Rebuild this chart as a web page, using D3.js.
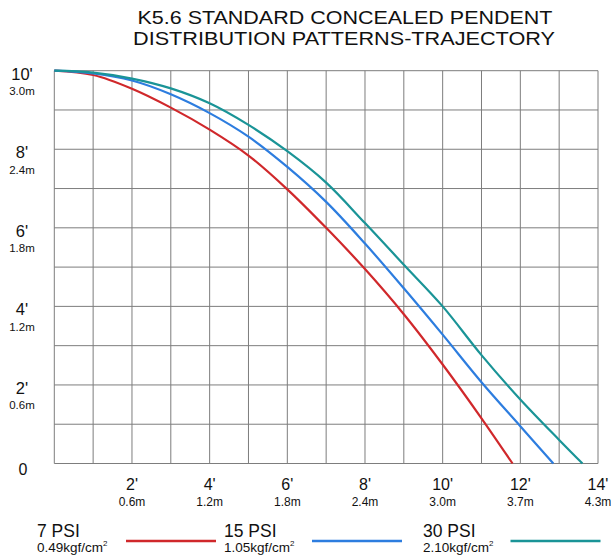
<!DOCTYPE html>
<html>
<head>
<meta charset="utf-8">
<script src="https://cdn.jsdelivr.net/npm/d3@7"></script>
<style>
  body { margin: 0; background: #fff; }
  svg { display: block; font-family: "Liberation Sans", Arial, sans-serif; }
</style>
</head>
<body>
<div id="chart"></div>
<script>
// throw distance (ft) vs height (ft)
const psi7X   = [0, 1, 2, 3, 4, 5, 6, 7, 8, 9, 10, 11, 11.8];
const psi7Y   = [10, 9.89, 9.54, 9.06, 8.5, 7.84, 6.98, 6.0, 4.95, 3.8, 2.52, 1.15, 0];
const psi15X  = [0, 1, 2, 3, 4, 5, 6, 7, 8, 9, 10, 11, 12, 12.85];
const psi15Y  = [10, 9.93, 9.75, 9.4, 8.92, 8.32, 7.55, 6.66, 5.6, 4.46, 3.28, 2.07, 0.95, 0];
const psi30X  = [0, 1, 2, 3, 4, 5, 6, 7, 8, 9, 10, 11, 12, 13, 13.6];
const psi30Y  = [10, 9.95, 9.8, 9.55, 9.17, 8.62, 7.95, 7.15, 6.12, 5.06, 4.0, 2.76, 1.63, 0.6, 0];

const xTicks  = [2, 4, 6, 8, 10, 12, 14];
const xFeet   = ["2'", "4'", "6'", "8'", "10'", "12'", "14'"];
const xMeters = ["0.6m", "1.2m", "1.8m", "2.4m", "3.0m", "3.7m", "4.3m"];
const yTicks  = [10, 8, 6, 4, 2];
const yFeet   = ["10'", "8'", "6'", "4'", "2'"];
const yMeters = ["3.0m", "2.4m", "1.8m", "1.2m", "0.6m"];

const seriesNames = ["7 PSI", "15 PSI", "30 PSI"];
const seriesUnits = ["0.49kgf/cm", "1.05kgf/cm", "2.10kgf/cm"];
const colors = ["#d0282b", "#2d7ddf", "#1a9497"];

const W = 611, H = 555;
const svg = d3.select("#chart").append("svg")
    .attr("width", W).attr("height", H);

const x = d3.scaleLinear().domain([0, 14]).range([54.3, 598]);
const y = d3.scaleLinear().domain([0, 10]).range([463.5, 70.7]);

// title
svg.append("text").attr("x", 345).attr("y", 24)
    .attr("text-anchor", "middle").attr("font-size", 18.5)
    .attr("textLength", 415).attr("lengthAdjust", "spacingAndGlyphs")
    .attr("fill", "#111").text("K5.6 STANDARD CONCEALED PENDENT");
svg.append("text").attr("x", 344).attr("y", 44.5)
    .attr("text-anchor", "middle").attr("font-size", 18.5)
    .attr("textLength", 422).attr("lengthAdjust", "spacingAndGlyphs")
    .attr("fill", "#111").text("DISTRIBUTION PATTERNS-TRAJECTORY");

// grid
const grid = svg.append("g").attr("stroke", "#7d7d7d").attr("stroke-width", 1);
grid.selectAll("line.v").data(d3.range(0, 15)).join("line")
    .attr("class", "v")
    .attr("x1", d => x(d)).attr("x2", d => x(d))
    .attr("y1", y(10)).attr("y2", y(0));
grid.selectAll("line.h").data(d3.range(0, 11)).join("line")
    .attr("class", "h")
    .attr("x1", x(0)).attr("x2", x(14))
    .attr("y1", d => y(d)).attr("y2", d => y(d));

// y labels
const yl = svg.append("g").attr("text-anchor", "middle").attr("fill", "#111");
yl.selectAll("text.f").data(yTicks).join("text")
    .attr("class", "f")
    .attr("x", 22).attr("y", d => y(d) + 9)
    .attr("font-size", 16.5).text((d, i) => yFeet[i]);
yl.selectAll("text.m").data(yTicks).join("text")
    .attr("class", "m")
    .attr("x", 22).attr("y", d => y(d) + 24.5)
    .attr("font-size", 11.5).text((d, i) => yMeters[i]);
yl.append("text").attr("x", 23).attr("y", y(0) + 11)
    .attr("font-size", 16).text("0");

// x labels
const xl = svg.append("g").attr("text-anchor", "middle").attr("fill", "#111");
xl.selectAll("text.f").data(xTicks).join("text")
    .attr("class", "f")
    .attr("x", d => x(d)).attr("y", 490)
    .attr("font-size", 16).text((d, i) => xFeet[i]);
xl.selectAll("text.m").data(xTicks).join("text")
    .attr("class", "m")
    .attr("x", d => x(d)).attr("y", 505.5)
    .attr("font-size", 12).text((d, i) => xMeters[i]);

// curves
const series = [
  psi7X.map((d, i) => [d, psi7Y[i]]),
  psi15X.map((d, i) => [d, psi15Y[i]]),
  psi30X.map((d, i) => [d, psi30Y[i]])
];
const line = d3.line()
    .x(d => x(d[0])).y(d => y(d[1]))
    .curve(d3.curveCatmullRom.alpha(0.5));
svg.append("g").selectAll("path").data(series).join("path")
    .attr("d", line)
    .attr("fill", "none")
    .attr("stroke", (d, i) => colors[i])
    .attr("stroke-width", 2.2);

// legend
const legX = [37, 224, 423];
const lineX = [126, 312, 510.5];
const leg = svg.append("g").attr("fill", "#111");
seriesNames.forEach((name, i) => {
  leg.append("text").attr("x", legX[i]).attr("y", 536.5)
      .attr("font-size", 17.5).text(name);
  const t = leg.append("text").attr("x", legX[i]).attr("y", 552)
      .attr("font-size", 13.5).text(seriesUnits[i]);
  t.append("tspan").attr("font-size", 8).attr("dy", -6).text("2");
  leg.append("line")
      .attr("x1", lineX[i]).attr("x2", lineX[i] + 90)
      .attr("y1", 541).attr("y2", 541)
      .attr("stroke", colors[i]).attr("stroke-width", 2.5);
});
</script>
</body>
</html>
